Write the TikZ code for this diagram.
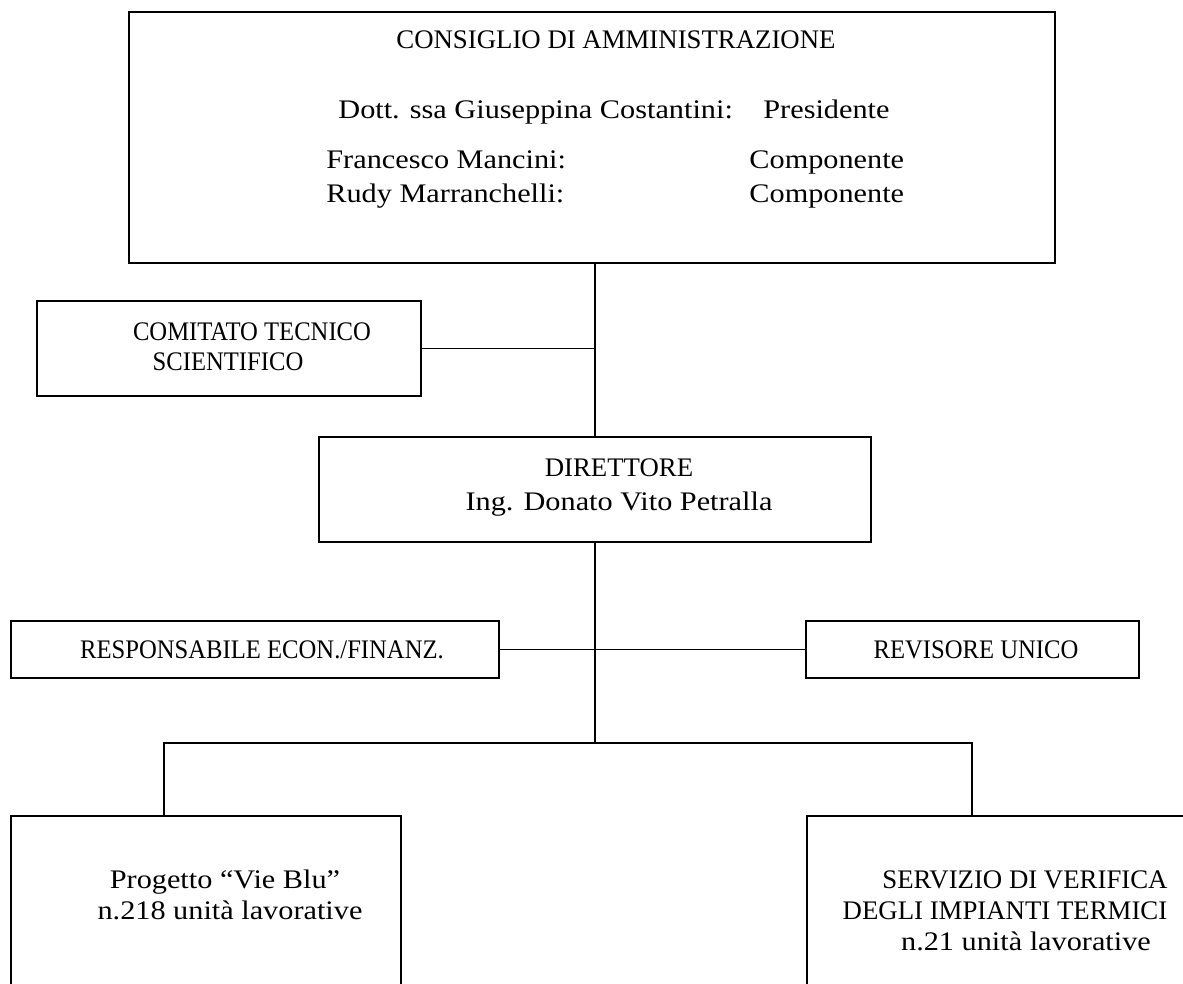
\documentclass[tikz,border=0pt]{standalone}
\usepackage{fontspec}
\setmainfont{Liberation Serif}
\newfontfamily\widefont[FakeStretch=1.13]{Liberation Serif}
\newfontfamily\slimfont[FakeStretch=0.92]{Liberation Serif}
\usepackage{tikz}

\begin{document}
\begin{tikzpicture}[
	x=0.5pt, y=-0.5pt,
	box/.style = {rectangle, draw, line width=1pt, inner sep=0pt},
	txt/.style = {inner sep=0pt, anchor=base, font=\fontsize{13.4}{16}\selectfont},
	wtxt/.style = {txt, font=\fontsize{13.4}{16}\widefont},
	ntxt/.style = {txt, font=\fontsize{13.4}{16}\slimfont},
	lbl/.style = {wtxt, anchor=base west},
	line/.style = {draw, line width=0.9pt}
	]
	\useasboundingbox (0,0) rectangle (1183,984);
	\clip (0,0) rectangle (1183,984);

	% Boxes
	\node [box, minimum width=463pt, minimum height=125.5pt] (cda) at (592,137.5) {};
	\node [box, minimum width=192pt, minimum height=47.5pt] (cts) at (229,348.5) {};
	\node [box, minimum width=276pt, minimum height=52.5pt] (dir) at (595,489.5) {};
	\node [box, minimum width=244pt, minimum height=28.5pt] (resp) at (255,649.5) {};
	\node [box, minimum width=166.5pt, minimum height=28.5pt] (rev) at (972.5,649.5) {};
	\node [box, minimum width=195pt, minimum height=92pt] (prog) at (206,908) {};
	\node [box, minimum width=196.5pt, minimum height=92pt] (serv) at (1003.5,908) {};

	% Texts
	\node [txt] (cdaT) at (616,49) {CONSIGLIO DI AMMINISTRAZIONE};
	\node [lbl] (pres) at (338,119) {Dott. ssa Giuseppina Costantini:};
	\node [lbl] (presR) at (763,119) {Presidente};
	\node [lbl] (comp1) at (326,169) {Francesco Mancini:};
	\node [lbl] (comp1R) at (749,169) {Componente};
	\node [lbl] (comp2) at (326,203) {Rudy Marranchelli:};
	\node [lbl] (comp2R) at (749,203) {Componente};

	\node [ntxt] (ctsA) at (252,340) {COMITATO TECNICO};
	\node [ntxt] (ctsB) at (228,370) {SCIENTIFICO};

	\node [txt] (dirA) at (619,476) {DIRETTORE};
	\node [wtxt] (dirB) at (619,510) {Ing. Donato Vito Petralla};

	\node [ntxt] (respT) at (262,658) {RESPONSABILE ECON./FINANZ.};
	\node [ntxt] (revT) at (976,658) {REVISORE UNICO};

	\node [wtxt] (progA) at (225,888) {Progetto “Vie Blu”};
	\node [wtxt] (progB) at (230,919) {n.218 unità lavorative};

	\node [txt] (servA) at (1025,888) {SERVIZIO DI VERIFICA};
	\node [txt] (servB) at (1005,919) {DEGLI IMPIANTI TERMICI};
	\node [wtxt] (servC) at (1026,950) {n.21 unità lavorative};

	% Lines
	\coordinate (forkL) at (164,743);
	\coordinate (forkR) at (972,743);
	\path [line] (dir.north |- cda.south) -- (dir.north);
	\path [line] (cts.east) -- (cts.east -| dir.north);
	\path [line] (dir.south) -- (dir.south |- forkL);
	\path [line] (resp.east) -- (rev.west);
	\path [line] (forkL |- prog.north) -- (forkL) -- (forkR) -- (forkR |- serv.north);
\end{tikzpicture}
\end{document}
